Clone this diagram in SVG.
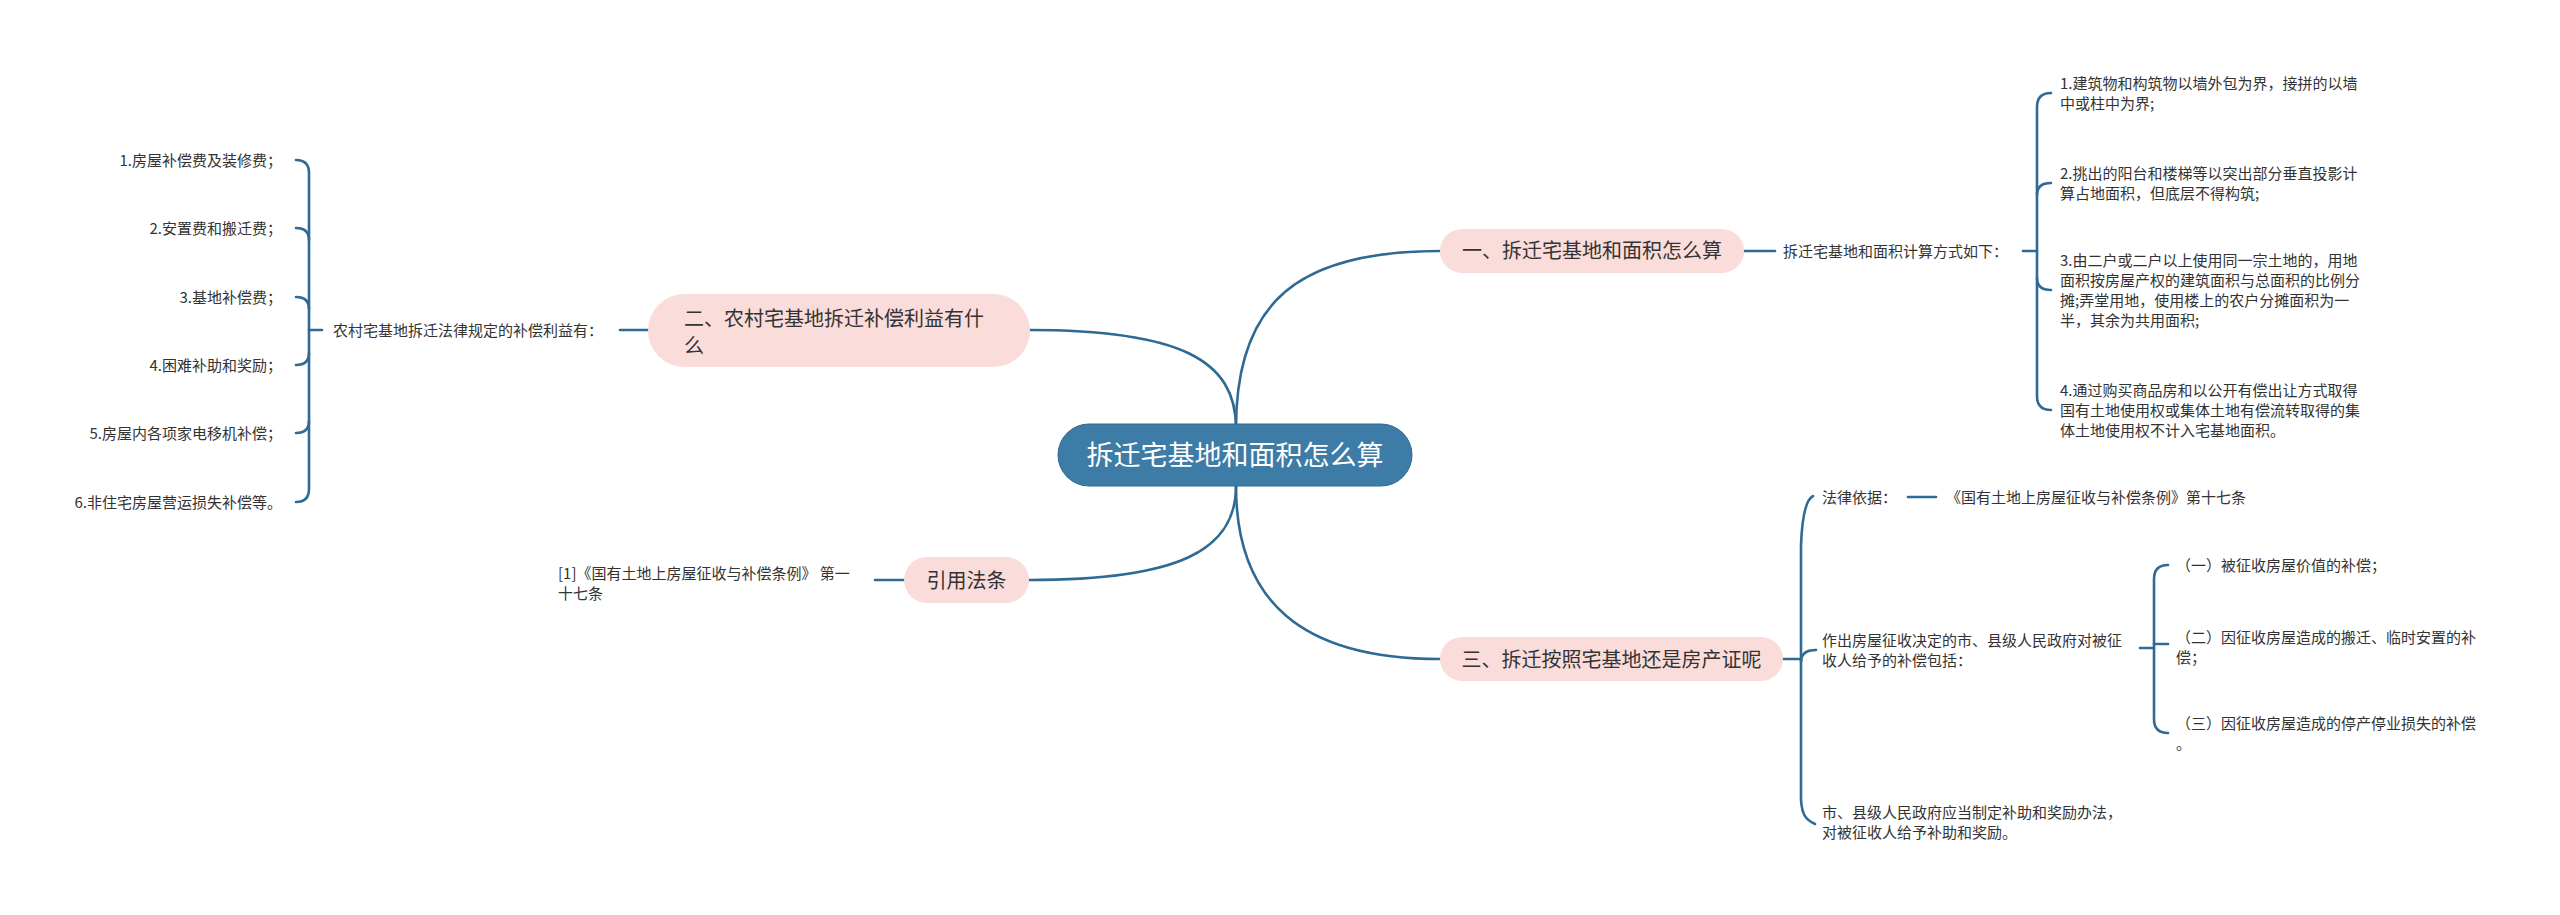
<svg xmlns="http://www.w3.org/2000/svg" width="2560" height="915" viewBox="0 0 2560 915">
<style>
text{font-family:"Microsoft YaHei","Noto Sans CJK SC","Noto Sans",sans-serif;fill:#333333}
.leaf{font-size:15px}
.mid{font-size:20px}
.pink{fill:#fadcda}
.conn{fill:none;stroke:#2e6a93;stroke-width:2.6;stroke-linecap:round}
</style>
<rect width="2560" height="915" fill="#ffffff"/>
<g id="connectors" class="conn">
<path d="M1236,428 C1236,300 1300,251 1440,251"/>
<path d="M1236,428 C1236,360 1180,330 1029,330"/>
<path d="M1236,486 C1236,600 1300,659 1440,659"/>
<path d="M1236,486 C1236,550 1180,580 1029,580"/>
<path d="M1744,251 L1775,251"/>
<path d="M2023,251 L2037,251"/>
<path d="M2051,93 Q2037,93 2037,107 L2037,396 Q2037,410 2051,410"/>
<path d="M2037,195 Q2037,183 2051,183"/>
<path d="M2037,278 Q2037,290 2051,290"/>
<path d="M620,330 L648,330"/>
<path d="M322,330 L309,330"/>
<path d="M296,160 Q309,160 309,173 L309,489 Q309,502 296,502"/>
<path d="M309,240 Q309,228 296,228"/>
<path d="M309,309 Q309,297 296,297"/>
<path d="M309,353 Q309,365 296,365"/>
<path d="M309,421 Q309,433 296,433"/>
<path d="M875,580 L904,580"/>
<path d="M1783,659 L1801,659"/>
<path d="M1813,496 C1805,500 1802,520 1801,545 L1801,800 C1802,815 1806,820 1815,824"/>
<path d="M1801,662 Q1801,650 1816,650"/>
<path d="M1908,497 L1936,497"/>
<path d="M2140,648 L2154,648"/>
<path d="M2168,565 Q2154,565 2154,579 L2154,719 Q2154,733 2168,733"/>
<path d="M2154,644 L2168,644"/>
</g>
<g id="root">
<rect x="1058" y="424" width="354" height="62" rx="31" fill="#3d7ca6" stroke="#2f6a92" stroke-width="1"/>
<text x="1235" y="465" text-anchor="middle" style="font-size:27px;fill:#ffffff">拆迁宅基地和面积怎么算</text>
</g>
<g id="n1">
<rect class="pink" x="1440" y="229" width="304" height="44" rx="22"/>
<text class="mid" x="1592" y="258" text-anchor="middle">一、拆迁宅基地和面积怎么算</text>
</g>
<g id="n1a"><text class="leaf" x="1783" y="257">拆迁宅基地和面积计算方式如下：</text></g>
<g id="n1a1"><text class="leaf" x="2060" y="89">1.建筑物和构筑物以墙外包为界，接拼的以墙</text><text class="leaf" x="2060" y="109">中或柱中为界;</text></g>
<g id="n1a2"><text class="leaf" x="2060" y="179">2.挑出的阳台和楼梯等以突出部分垂直投影计</text><text class="leaf" x="2060" y="199">算占地面积，但底层不得构筑;</text></g>
<g id="n1a3"><text class="leaf" x="2060" y="266">3.由二户或二户以上使用同一宗土地的，用地</text><text class="leaf" x="2060" y="286">面积按房屋产权的建筑面积与总面积的比例分</text><text class="leaf" x="2060" y="306">摊;弄堂用地，使用楼上的农户分摊面积为一</text><text class="leaf" x="2060" y="326">半，其余为共用面积;</text></g>
<g id="n1a4"><text class="leaf" x="2060" y="396">4.通过购买商品房和以公开有偿出让方式取得</text><text class="leaf" x="2060" y="416">国有土地使用权或集体土地有偿流转取得的集</text><text class="leaf" x="2060" y="436">体土地使用权不计入宅基地面积。</text></g>
<g id="n2">
<rect class="pink" x="648" y="294" width="382" height="73" rx="36.5"/>
<text class="mid" x="684" y="326">二、农村宅基地拆迁补偿利益有什</text>
<text class="mid" x="684" y="353">么</text>
</g>
<g id="n2a"><text class="leaf" x="333" y="336">农村宅基地拆迁法律规定的补偿利益有：</text></g>
<g id="n2a1"><text class="leaf" x="282" y="166" text-anchor="end">1.房屋补偿费及装修费；</text></g>
<g id="n2a2"><text class="leaf" x="282" y="234" text-anchor="end">2.安置费和搬迁费；</text></g>
<g id="n2a3"><text class="leaf" x="282" y="303" text-anchor="end">3.基地补偿费；</text></g>
<g id="n2a4"><text class="leaf" x="282" y="371" text-anchor="end">4.困难补助和奖励；</text></g>
<g id="n2a5"><text class="leaf" x="282" y="439" text-anchor="end">5.房屋内各项家电移机补偿；</text></g>
<g id="n2a6"><text class="leaf" x="282" y="508" text-anchor="end">6.非住宅房屋营运损失补偿等。</text></g>
<g id="n4">
<rect class="pink" x="904" y="557" width="125" height="46" rx="23"/>
<text class="mid" x="966.5" y="588" text-anchor="middle">引用法条</text>
</g>
<g id="n4a"><text class="leaf" x="558" y="579">[1]《国有土地上房屋征收与补偿条例》 第一</text><text class="leaf" x="558" y="599">十七条</text></g>
<g id="n3">
<rect class="pink" x="1440" y="637" width="343" height="44" rx="22"/>
<text class="mid" x="1611.5" y="667" text-anchor="middle">三、拆迁按照宅基地还是房产证呢</text>
</g>
<g id="n3a"><text class="leaf" x="1822" y="503">法律依据：</text></g>
<g id="n3a1"><text class="leaf" x="1946" y="503">《国有土地上房屋征收与补偿条例》第十七条</text></g>
<g id="n3b"><text class="leaf" x="1822" y="646">作出房屋征收决定的市、县级人民政府对被征</text><text class="leaf" x="1822" y="666">收人给予的补偿包括：</text></g>
<g id="n3b1"><text class="leaf" x="2176" y="571">（一）被征收房屋价值的补偿；</text></g>
<g id="n3b2"><text class="leaf" x="2176" y="643">（二）因征收房屋造成的搬迁、临时安置的补</text><text class="leaf" x="2176" y="663">偿；</text></g>
<g id="n3b3"><text class="leaf" x="2176" y="729">（三）因征收房屋造成的停产停业损失的补偿</text><text class="leaf" x="2176" y="749">。</text></g>
<g id="n3c"><text class="leaf" x="1822" y="818">市、县级人民政府应当制定补助和奖励办法，</text><text class="leaf" x="1822" y="838">对被征收人给予补助和奖励。</text></g>
</svg>
